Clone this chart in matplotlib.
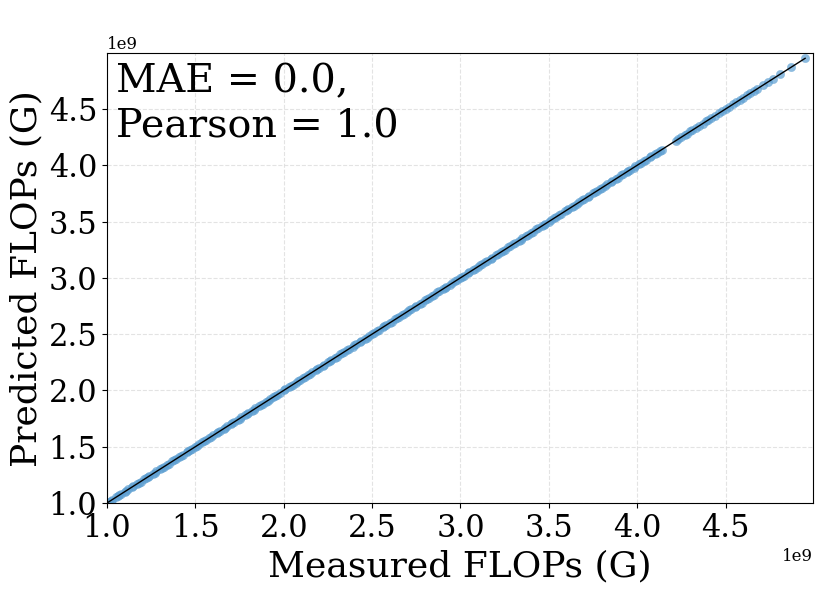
import matplotlib
matplotlib.use("Agg")
import matplotlib.pyplot as plt
from matplotlib.ticker import MultipleLocator
import numpy as np

plt.rcParams['font.family'] = ['DejaVu Serif']

# values in units of 1e9 FLOPs
measured_g = [
    1.00, 1.01, 1.02, 1.03, 1.05, 1.06, 1.07, 1.08, 1.10, 1.11, 1.12, 1.14, 1.15, 1.17, 1.18,
    1.19, 1.21, 1.22, 1.23, 1.24, 1.26, 1.27, 1.28, 1.30, 1.31, 1.32, 1.34, 1.35, 1.37, 1.38,
    1.39, 1.41, 1.42, 1.43, 1.45, 1.46, 1.47, 1.48, 1.50, 1.51, 1.52, 1.54, 1.55, 1.56, 1.58,
    1.59, 1.60, 1.62, 1.63, 1.64, 1.66, 1.67, 1.68, 1.70, 1.71, 1.72, 1.74, 1.75, 1.76, 1.78,
    1.79, 1.80, 1.82, 1.83, 1.84, 1.86, 1.87, 1.88, 1.90, 1.91, 1.92, 1.94, 1.95, 1.96, 1.98,
    2.00, 2.01, 2.03, 2.04, 2.05, 2.07, 2.08, 2.09, 2.11, 2.12, 2.14, 2.15, 2.16, 2.18, 2.19,
    2.20, 2.22, 2.23, 2.25, 2.26, 2.27, 2.29, 2.30, 2.32, 2.33, 2.34, 2.36, 2.37, 2.39, 2.40,
    2.41, 2.43, 2.44, 2.46, 2.47, 2.48, 2.50, 2.51, 2.53, 2.54, 2.56, 2.57, 2.58, 2.60, 2.61,
    2.63, 2.64, 2.65, 2.67, 2.68, 2.70, 2.71, 2.72, 2.74, 2.75, 2.77, 2.78, 2.80, 2.81, 2.82,
    2.84, 2.85, 2.87, 2.88, 2.90, 2.91, 2.92, 2.94, 2.95, 2.97, 2.98, 3.00, 3.01, 3.02, 3.04,
    3.05, 3.07, 3.08, 3.10, 3.11, 3.12, 3.14, 3.15, 3.17, 3.18, 3.20, 3.21, 3.23, 3.24, 3.25,
    3.27, 3.28, 3.30, 3.31, 3.33, 3.34, 3.35, 3.37, 3.38, 3.40, 3.41, 3.43, 3.44, 3.46, 3.47,
    3.48, 3.50, 3.51, 3.53, 3.54, 3.56, 3.57, 3.59, 3.60, 3.61, 3.63, 3.64, 3.66, 3.67, 3.69,
    3.70, 3.72, 3.73, 3.75, 3.76, 3.77, 3.79, 3.80, 3.82, 3.83, 3.85, 3.86, 3.88, 3.89, 3.91,
    3.92, 3.94, 3.95, 3.96, 3.98, 3.99, 4.01, 4.02, 4.04, 4.05, 4.07, 4.08, 4.10, 4.11, 4.13,
    4.14, 4.22, 4.23, 4.25, 4.27, 4.28, 4.30, 4.31, 4.33, 4.35, 4.37, 4.39, 4.40, 4.42, 4.44,
    4.46, 4.48, 4.50, 4.52, 4.54, 4.56, 4.58, 4.60, 4.62, 4.64, 4.66, 4.68, 4.71, 4.74, 4.77,
    4.81, 4.87, 4.95,
]
predicted_g = list(measured_g)  # MAE = 0.0: predictions coincide with measurements
annotation = "MAE = 0.0,\nPearson = 1.0"

x = np.array(measured_g) * 1e9
y = np.array(predicted_g) * 1e9

fig = plt.figure(figsize=(8.3, 5.93), dpi=100)
ax = fig.add_axes([0.1289, 0.1518, 0.8506, 0.7583])

ax.scatter(x, y, s=36, color='#5d9fd2', alpha=0.7, edgecolors='#5d9fd2', linewidths=0.3, zorder=2)
lo, hi = x.min(), x.max()
ax.plot([lo, hi], [lo, hi], color='black', linewidth=1.0, zorder=3)

ax.set_xlim(lo, hi * 1.009)
ax.set_ylim(lo, hi * 1.009)
ax.xaxis.set_major_locator(MultipleLocator(0.5e9))
ax.yaxis.set_major_locator(MultipleLocator(0.5e9))
ax.grid(True, linestyle='--', color='#dddddd', linewidth=0.8, alpha=0.8)
ax.set_axisbelow(True)

ax.tick_params(axis='both', labelsize=22)
ax.xaxis.get_offset_text().set_fontsize(12)
ax.yaxis.get_offset_text().set_fontsize(12)
ax.set_xlabel('Measured FLOPs (G)', fontsize=26)
ax.set_ylabel('Predicted FLOPs (G)', fontsize=26)

ax.text(0.013, 0.978, annotation, transform=ax.transAxes, fontsize=28.5,
        va='top', ha='left', linespacing=1.27)

fig.savefig('out.png', dpi=100)
